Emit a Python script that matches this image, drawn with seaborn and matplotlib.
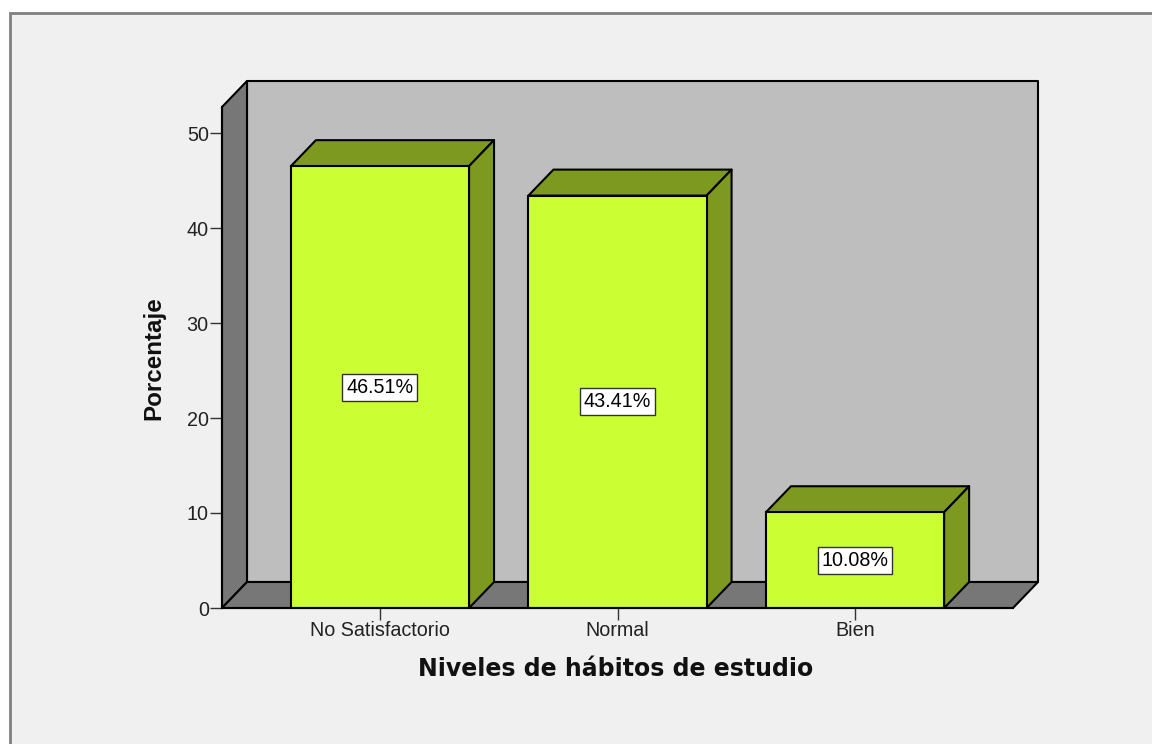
import matplotlib
matplotlib.use('Agg')
import matplotlib.pyplot as plt
from matplotlib.patches import Polygon, Rectangle
import pandas as pd
import seaborn as sns

# chart values
niveles = ['No Satisfactorio', 'Normal', 'Bien']
porcentajes = [46.51, 43.41, 10.08]
etiquetas = ['46.51%', '43.41%', '10.08%']
y_ticks = [0, 10, 20, 30, 40, 50]

FONDO = '#F0F0F0'
PARED = '#BEBEBE'
LATERAL = '#777777'
BARRA = '#CCFF33'
BARRA_OSCURA = '#7D991F'
W, H = 1152, 744

df = pd.DataFrame({'Nivel': niveles, 'Porcentaje': porcentajes})

sns.set_style('white')
plt.rcParams['font.family'] = ['Liberation Sans', 'DejaVu Sans']

fig = plt.figure(figsize=(W / 100, H / 100), dpi=100, facecolor='white')

# outer frame of the chart window, runs off the right and bottom edges
fig.add_artist(Rectangle((10 / W, -0.01), 1.02 - 10 / W, 1.01 - 13 / H, transform=fig.transFigure,
                         facecolor=FONDO, edgecolor='#808080', linewidth=2, zorder=-1))

ax = fig.add_axes([222 / W, 1 - 608 / H, (1013 - 222) / W, (608 - 107) / H])
ax.patch.set_visible(False)

sns.barplot(data=df, x='Nivel', y='Porcentaje', color=BARRA, saturation=1, width=0.75,
            edgecolor='black', linewidth=1.5, ax=ax, zorder=5)

x0, x1 = -0.665, 2.665
y1 = 501 / 9.5
ax.set_xlim(x0, x1)
ax.set_ylim(0, y1)

# depth of the fake 3D box, in data units
dx = 25 / 237.5
dy = 26 / 9.5


def caja(puntos, color, z):
    ax.add_patch(Polygon(puntos, closed=True, facecolor=color, edgecolor='black',
                         linewidth=1.5, joinstyle='round', clip_on=False, zorder=z))


barras = list(ax.patches[:len(niveles)])

# back wall, side wall, floor
caja([(x0 + dx, dy), (x1 + dx, dy), (x1 + dx, y1 + dy), (x0 + dx, y1 + dy)], PARED, 1)
caja([(x0, 0), (x0 + dx, dy), (x0 + dx, y1 + dy), (x0, y1)], LATERAL, 2)
caja([(x0, 0), (x1, 0), (x1 + dx, dy), (x0 + dx, dy)], LATERAL, 2)

# top and side of each bar
for barra, etiqueta in zip(barras, etiquetas):
    a = barra.get_x()
    b = a + barra.get_width()
    h = barra.get_height()
    caja([(a, h), (b, h), (b + dx, h + dy), (a + dx, h + dy)], BARRA_OSCURA, 4)
    caja([(b, 0), (b + dx, dy), (b + dx, h + dy), (b, h)], BARRA_OSCURA, 4)
    ax.text((a + b) / 2, h / 2, etiqueta, ha='center', va='center', fontsize=14.2,
            color='black', zorder=7,
            bbox=dict(boxstyle='square,pad=0.2', facecolor='white', edgecolor='#333333', linewidth=1))

sns.despine(ax=ax, top=True, right=True)
for s in ['left', 'bottom']:
    ax.spines[s].set_linewidth(1.5)
    ax.spines[s].set_color('black')
    ax.spines[s].set_zorder(6)

ax.set_yticks(y_ticks)
ax.tick_params(axis='both', direction='out', length=8.5, width=1, color='#333333',
               labelsize=14.2, labelcolor='#222222', left=True, bottom=True, pad=1)
ax.set_xlabel('')
ax.set_ylabel('')

fig.text(616 / W, 1 - 669 / H, 'Niveles de hábitos de estudio', ha='center', va='center',
         fontsize=17, fontweight='bold', family='DejaVu Sans', color='#111111')
fig.text(154 / W, 1 - 358 / H, 'Porcentaje', ha='center', va='center', rotation=90,
         fontsize=17.4, fontweight='bold', color='#111111')

fig.savefig('out.png', dpi=100)
